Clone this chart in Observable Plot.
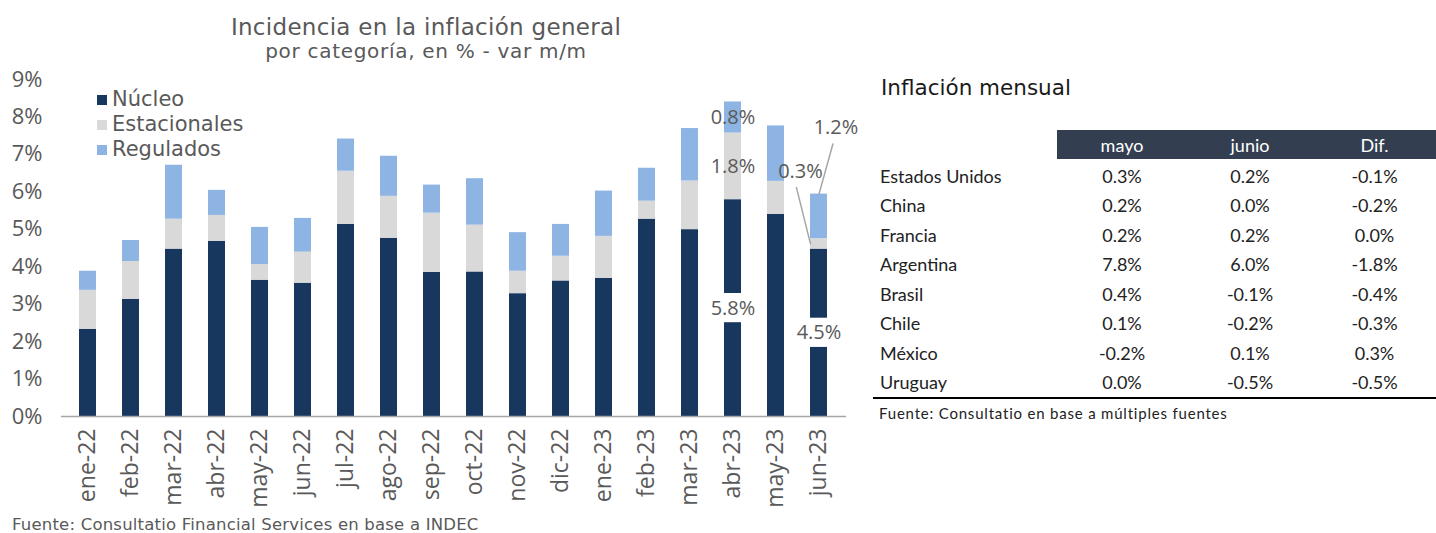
<!DOCTYPE html>
<html><head><meta charset="utf-8">
<script src="https://cdn.jsdelivr.net/npm/d3@7"></script>
<script src="https://cdn.jsdelivr.net/npm/@observablehq/plot@0.6"></script>
<style>
body{margin:0;width:1436px;height:533px;position:relative;overflow:hidden;background:#fff;font-family:"Open Sans",sans-serif;color:#595959}
#title{position:absolute;left:0;width:852px;top:13px;text-align:center;font-family:"DejaVu Sans",sans-serif;white-space:nowrap}
#title .t1{display:block;font-size:23px;line-height:28px;letter-spacing:0.3px}
#title .t2{display:block;font-size:20px;line-height:20px;letter-spacing:0.7px}
#chart{position:absolute;left:0;top:60px}
#legend{position:absolute;left:97px;top:87px;font-family:"DejaVu Sans",sans-serif;font-size:21px;line-height:25px}
#legend .item{display:flex;align-items:center;height:25px}
#legend .sw{width:10px;height:10px;margin-right:5px}
#source{position:absolute;left:12px;top:515px;font-family:"DejaVu Sans",sans-serif;font-size:16.5px;line-height:20px;letter-spacing:0.2px;white-space:nowrap}
#tabtitle{position:absolute;left:881px;top:75px;font-family:"DejaVu Sans",sans-serif;font-size:21.5px;line-height:25px;color:#1a1a1a;white-space:nowrap}
#tab{position:absolute;left:873px;top:130px;border-collapse:separate;border-spacing:0;font-family:Lato,sans-serif;font-size:18px;color:#222;table-layout:fixed}
#tab th{height:29px;padding:0;font-weight:normal;color:#fff;background:#333f50;text-align:center;border-bottom:2px solid #fff}
#tab th.blank{background:#fff}
#tab td{height:29.5px;padding:0;text-align:center}
#tab td.c{text-align:left;padding-left:7px}
#tab tr:last-child td{border-bottom:2px solid #000}
#tabsrc{position:absolute;left:879px;top:404px;font-family:Lato,sans-serif;font-size:15px;line-height:18px;letter-spacing:0.8px;color:#222;white-space:nowrap}
</style></head>
<body>
<div id="title"><span class="t1">Incidencia en la inflación general</span><span class="t2">por categoría, en % - var m/m</span></div>
<div id="chart"></div>
<div id="legend"></div>
<div id="source">Fuente: Consultatio Financial Services en base a INDEC</div>
<div id="tabtitle">Inflación mensual</div>
<table id="tab"></table>
<div id="tabsrc">Fuente: Consultatio en base a múltiples fuentes</div>
<script>
// ---- Chart data ----
const months = ["ene-22","feb-22","mar-22","abr-22","may-22","jun-22","jul-22","ago-22","sep-22","oct-22","nov-22","dic-22","ene-23","feb-23","mar-23","abr-23","may-23","jun-23"];
const series = ["Núcleo","Estacionales","Regulados"];
const nucleo       = [2.33,3.13,4.47,4.68,3.64,3.56,5.13,4.76,3.85,3.86,3.28,3.62,3.69,5.27,4.99,5.79,5.40,4.47];
const estacionales = [1.04,1.01,0.80,0.69,0.42,0.83,1.42,1.12,1.58,1.25,0.60,0.66,1.12,0.48,1.30,1.78,0.88,0.28];
const regulados    = [0.51,0.56,1.44,0.67,0.99,0.90,0.86,1.07,0.75,1.24,1.03,0.85,1.21,0.88,1.40,0.83,1.48,1.19];
const colors = ["#17375e","#d9d9d9","#8eb4e3"];
const yTicks = [0,1,2,3,4,5,6,7,8,9];

// ---- Table data ----
const countries = ["Estados Unidos","China","Francia","Argentina","Brasil","Chile","México","Uruguay"];
const tableHeaders = ["mayo","junio","Dif."];
const mayo  = ["0.3%","0.2%","0.2%","7.8%","0.4%","0.1%","-0.2%","0.0%"];
const junio = ["0.2%","0.0%","0.2%","6.0%","-0.1%","-0.2%","0.1%","-0.5%"];
const dif   = ["-0.1%","-0.2%","0.0%","-1.8%","-0.4%","-0.3%","0.3%","-0.5%"];

// build stacked rows
const seriesValues = [nucleo, estacionales, regulados];
const rows = months.flatMap((m, i) => {
  let acc = 0;
  return series.map((s, k) => {
    const v = seriesValues[k][i];
    const r = {month: m, serie: s, value: v, y1: acc, y2: acc + v, mid: acc + v / 2, label: v.toFixed(1) + "%"};
    acc += v;
    return r;
  });
});
const inside = rows.filter(r => r.month === "abr-23" || (r.month === "jun-23" && r.serie === "Núcleo"));
const boxes = inside.filter(r => r.serie === "Núcleo");
const callEst = rows.filter(r => r.month === "jun-23" && r.serie === "Estacionales");
const callReg = rows.filter(r => r.month === "jun-23" && r.serie === "Regulados");
const lineShape = {draw(ctx, l) { ctx.moveTo(0, 0); ctx.lineTo(0, -l); }};

const chart = Plot.plot({
  width: 860, height: 451,
  marginTop: 19, marginBottom: 95, marginLeft: 61, marginRight: 14,
  x: {domain: months, paddingInner: 0.594, paddingOuter: 0.3, label: null},
  y: {domain: [0, 9], label: null},
  color: {domain: series, range: colors},
  style: {fontFamily: "Open Sans", color: "#595959", background: "transparent", overflow: "visible"},
  marks: [
    Plot.axisY({ticks: yTicks, tickSize: 0, tickPadding: 19, fontSize: 22, tickFormat: d => d + "%", label: null, fill: "#595959"}),
    Plot.axisX({tickSize: 0, tickPadding: 12, tickRotate: -90, fontSize: 23, label: null, fill: "#595959"}),
    Plot.barY(rows, {x: "month", y1: "y1", y2: "y2", fill: "serie"}),
    Plot.barY(boxes, {x: "month", y1: d => d.mid - 0.39, y2: d => d.mid + 0.39, fill: "white", insetLeft: -2, insetRight: -2}),
    Plot.ruleY([0], {stroke: "#a6a6a6", strokeWidth: 1.5}),
    Plot.text(inside, {x: "month", y: "mid", text: "label", fontSize: 20, fill: "#595959"}),
    Plot.vector(callEst, {x: "month", y: "mid", dx: -8.5, anchor: "start", rotate: -14, length: 58, shape: lineShape, stroke: "#a6a6a6", strokeWidth: 1.5}),
    Plot.vector(callReg, {x: "month", y: "y2", anchor: "start", rotate: 15.5, length: 52, shape: lineShape, stroke: "#a6a6a6", strokeWidth: 1.5}),
    Plot.text(callEst, {x: "month", y: "mid", text: "label", dx: -18.5, dy: -72, fontSize: 20, fill: "#595959"}),
    Plot.text(callReg, {x: "month", y: "y2", text: "label", dx: 17, dy: -66, fontSize: 20, fill: "#595959"})
  ]
});
document.getElementById("chart").appendChild(chart);

// legend
const legend = document.getElementById("legend");
series.forEach((s, k) => {
  const it = document.createElement("div");
  it.className = "item";
  it.innerHTML = `<span class="sw" style="background:${colors[k]}"></span><span>${s}</span>`;
  legend.appendChild(it);
});

// table
const tab = document.getElementById("tab");
const colW = [184, 130, 126, 123];
const cg = document.createElement("colgroup");
colW.forEach(w => { const c = document.createElement("col"); c.style.width = w + "px"; cg.appendChild(c); });
tab.appendChild(cg);
const thead = document.createElement("thead");
thead.innerHTML = `<tr><th class="blank"></th>${tableHeaders.map(h => `<th>${h}</th>`).join("")}</tr>`;
tab.appendChild(thead);
const tbody = document.createElement("tbody");
countries.forEach((c, i) => {
  const tr = document.createElement("tr");
  tr.innerHTML = `<td class="c">${c}</td><td>${mayo[i]}</td><td>${junio[i]}</td><td>${dif[i]}</td>`;
  tbody.appendChild(tr);
});
tab.appendChild(tbody);
</script>
</body></html>
